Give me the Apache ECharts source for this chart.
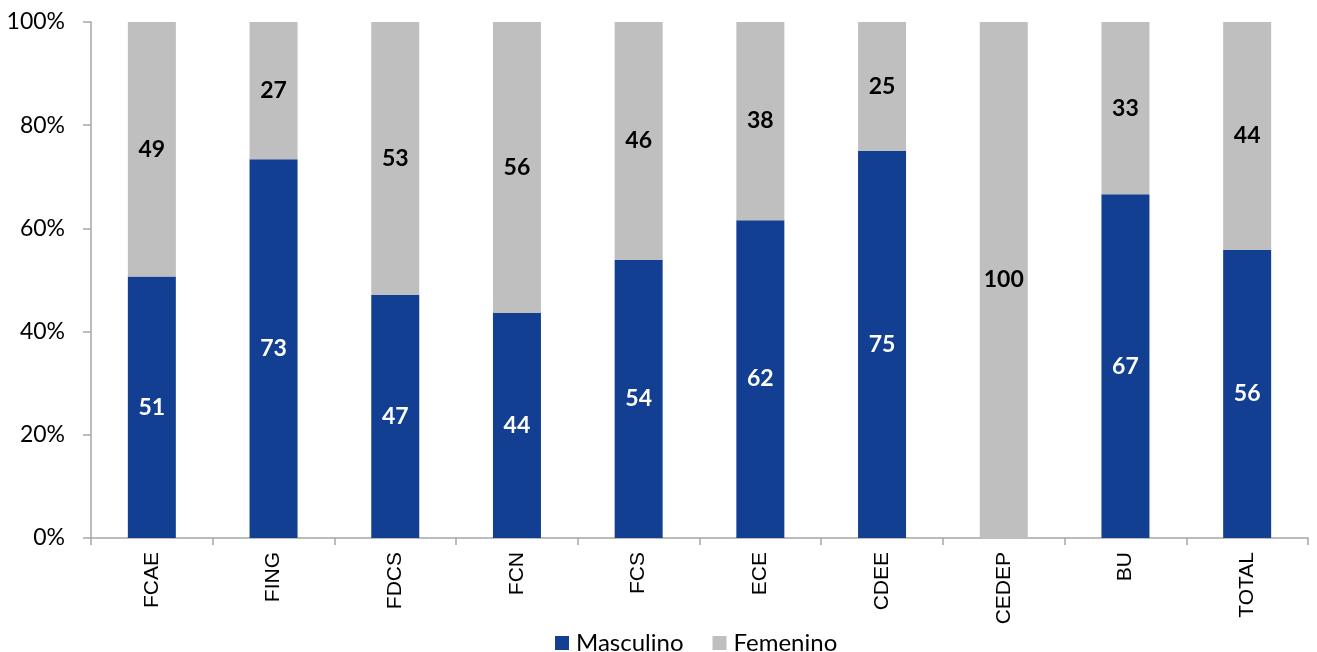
<!DOCTYPE html>
<html><head><meta charset="utf-8">
<script src="https://cdn.jsdelivr.net/npm/echarts@6/dist/echarts.min.js"></script>
<style>html,body{margin:0;padding:0;background:#fff}#c{width:1317px;height:652px}</style>
</head><body><div id="c"></div>
<script>
const categories = ['FCAE','FING','FDCS','FCN','FCS','ECE','CDEE','CEDEP','BU','TOTAL'];
const masculino = [50.7, 73.4, 47.1, 43.6, 53.9, 61.6, 75.0, 0, 66.6, 55.8];
const femenino  = [49.3, 26.6, 52.9, 56.4, 46.1, 38.4, 25.0, 100, 33.4, 44.2];
const yTicks = [0, 20, 40, 60, 80, 100];

const chart = echarts.init(document.getElementById('c'));
const lbl = (color) => ({
  show: true, position: 'inside', color: color, fontFamily: 'Lato', fontWeight: 'bold', fontSize: 23,
  formatter: p => p.value > 0 ? Math.round(p.value) : ''
});
chart.setOption({
  animation: false,
  grid: { left: 91, right: 9, top: 22, bottom: 114 },
  legend: {
    top: 626, left: 550, itemWidth: 14, itemHeight: 14, itemGap: 29,
    icon: 'rect', textStyle: { fontFamily: 'Lato', fontSize: 24, color: '#000', padding: [0, 0, 0, 2] },
    data: ['Masculino', 'Femenino']
  },
  xAxis: {
    type: 'category', data: categories,
    axisLine: { lineStyle: { color: '#a6a6a6', width: 1.5 } },
    axisTick: { show: true, length: 7, lineStyle: { color: '#a6a6a6', width: 1.5 } },
    axisLabel: { rotate: 90, margin: 14, fontFamily: 'Liberation Sans', fontSize: 21, color: '#000' }
  },
  yAxis: {
    type: 'value', min: 0, max: 100, interval: 20,
    axisLine: { show: true, lineStyle: { color: '#a6a6a6', width: 1.5 } },
    axisTick: { show: true, length: 8, lineStyle: { color: '#a6a6a6', width: 1.5 } },
    splitLine: { show: false },
    axisLabel: { margin: 26, fontFamily: 'Lato', fontSize: 23, color: '#000',
      formatter: v => yTicks.includes(v) ? v + '%' : '' }
  },
  series: [
    { name: 'Masculino', type: 'bar', stack: 't', data: masculino, barWidth: 48,
      itemStyle: { color: '#123f91' }, label: lbl('#fff') },
    { name: 'Femenino', type: 'bar', stack: 't', data: femenino, barWidth: 48,
      itemStyle: { color: '#bfbfbf' }, label: lbl('#000') }
  ]
});
</script></body></html>
